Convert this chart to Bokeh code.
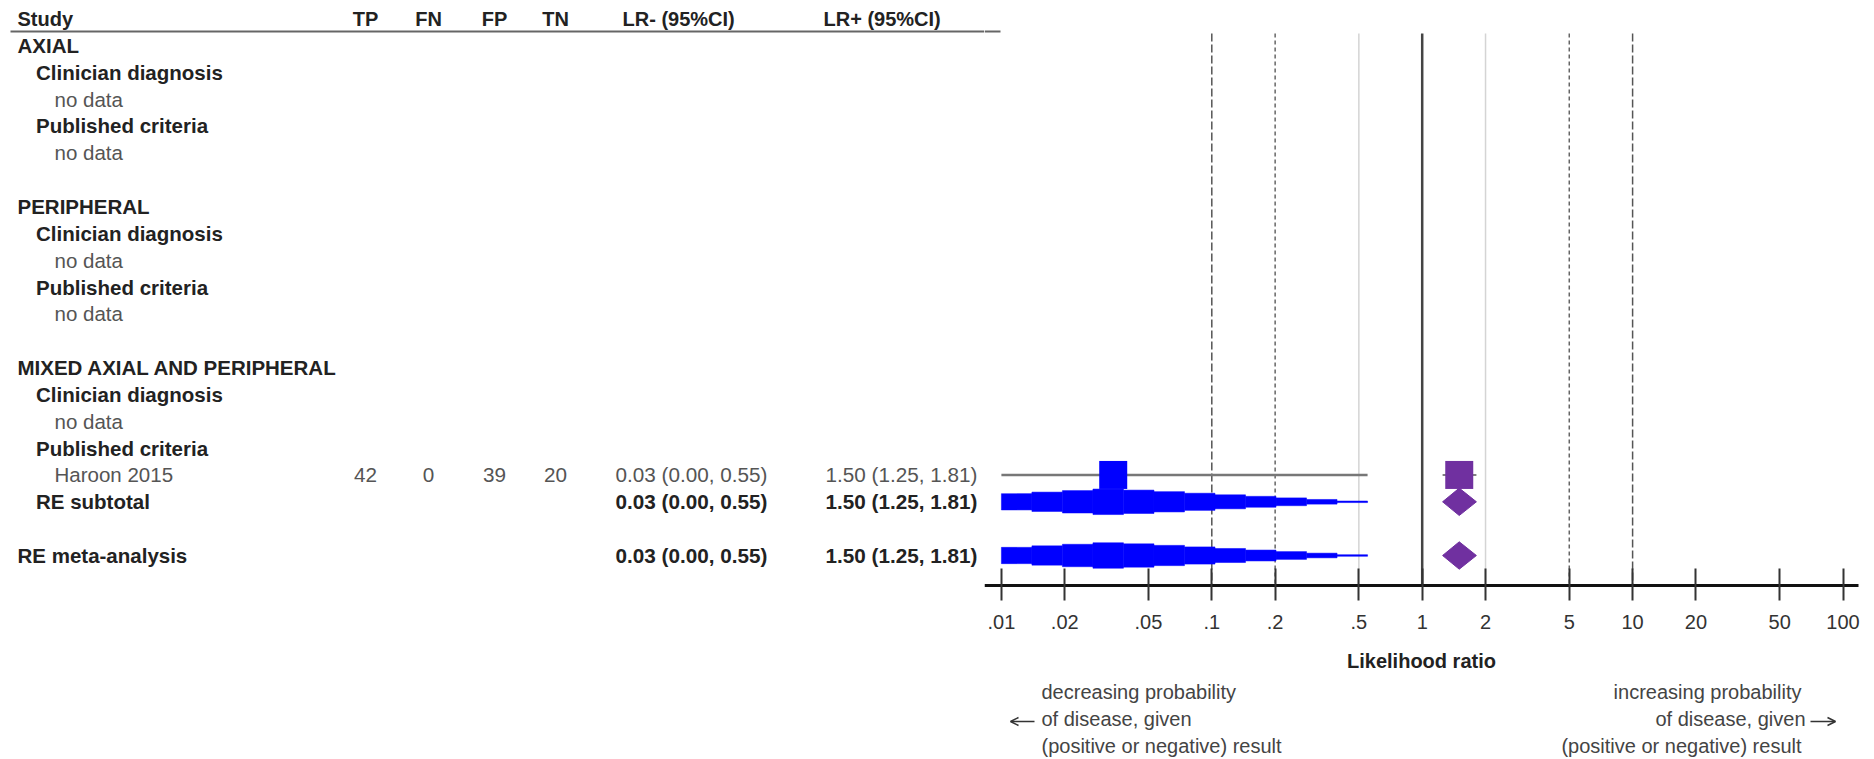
import math
from bokeh.plotting import figure
from bokeh.layouts import row
from bokeh.models import Range1d, FixedTicker, CustomJSTickFormatter, Arrow, OpenHead
from bokeh.core.properties import value
from bokeh.embed import file_html
from bokeh.resources import INLINE

# ---------------- data ----------------
header_labels = ["Study", "TP", "FN", "FP", "TN", "LR- (95%CI)", "LR+ (95%CI)"]

row_labels = ["AXIAL", "Clinician diagnosis", "no data", "Published criteria", "no data",
              "PERIPHERAL", "Clinician diagnosis", "no data", "Published criteria", "no data",
              "MIXED AXIAL AND PERIPHERAL", "Clinician diagnosis", "no data", "Published criteria",
              "Haroon 2015", "RE subtotal", "RE meta-analysis"]
row_index = [1, 2, 3, 4, 5, 7, 8, 9, 10, 11, 13, 14, 15, 16, 17, 18, 20]
row_level = [0, 1, 2, 1, 2, 0, 1, 2, 1, 2, 0, 1, 2, 1, 2, 1, 0]
row_bold = [True, True, False, True, False, True, True, False, True, False,
            True, True, False, True, False, True, True]

study_names = ["Haroon 2015"]
study_row = [17]
tp = [42]
fn = [0]
fp = [39]
tn = [20]
study_lrn = [0.034]
study_lrn_lo = [0.002]
study_lrn_hi = [0.55]
study_lrp = [1.50]
study_lrp_lo = [1.25]
study_lrp_hi = [1.81]

pooled_names = ["RE subtotal", "RE meta-analysis"]
pooled_row = [18, 20]
pooled_lrn = [0.034, 0.034]
pooled_lrn_lo = [0.002, 0.002]
pooled_lrn_hi = [0.55, 0.55]
pooled_lrp = [1.50, 1.50]
pooled_lrp_lo = [1.25, 1.25]
pooled_lrp_hi = [1.81, 1.81]

axis_ticks = [0.01, 0.02, 0.05, 0.1, 0.2, 0.5, 1, 2, 5, 10, 20, 50, 100]
ref_long_dash = [0.1, 10]
ref_short_dash = [0.2, 5]
ref_light = [0.5, 2]
ref_null = [1]

left_note = ["decreasing probability", "of disease, given", "(positive or negative) result"]
right_note = ["increasing probability", "of disease, given", "(positive or negative) result"]

# ---------------- layout constants ----------------
FONT = value("Liberation Sans")
FS = value("20px")
FS_LAB = value("20.5px")
FS_VAL = value("20.7px")
ROW0 = 18.0
ROWH = 26.85
X_ONE = 1421.7
DECADE = 210.4
AXIS_MIN = 0.01
H = 757


def ky(py):
    return (py - ROW0) / ROWH


def px_to_lr(px):
    return 10 ** ((px - X_ONE) / DECADE)


def fmt(e, lo, hi):
    return f"{e:.2f} ({lo:.2f}, {hi:.2f})"


YR = (ky(H), ky(0))

# ---------------- left table figure ----------------
L = figure(width=984, height=H, x_range=Range1d(0, 984), y_range=Range1d(*YR),
           toolbar_location=None, output_backend="svg", x_axis_location=None,
           y_axis_location=None, min_border=0, outline_line_color=None)
L.xgrid.visible = False
L.ygrid.visible = False

hx = [17, 365, 428, 494, 555, 622, 823]
halign = ["left", "center", "center", "center", "center", "left", "left"]
L.text(x=hx, y=[0] * 7, text=header_labels, text_align=halign, text_baseline="middle",
       text_font=FONT, text_font_size=FS, text_font_style="bold", text_color="#222")
L.segment(x0=[10], y0=[ky(31)], x1=[984], y1=[ky(31)], line_color="#666", line_width=2)

bx = [17 + 18.5 * lv for lv, b in zip(row_level, row_bold) if b]
by = [r for r, b in zip(row_index, row_bold) if b]
bt = [t for t, b in zip(row_labels, row_bold) if b]
L.text(x=bx, y=by, text=bt, text_align="left", text_baseline="middle",
       text_font=FONT, text_font_size=FS_LAB, text_font_style="bold", text_color="#222")
nx = [17 + 18.5 * lv for lv, b in zip(row_level, row_bold) if not b]
ny = [r for r, b in zip(row_index, row_bold) if not b]
nt = [t for t, b in zip(row_labels, row_bold) if not b]
L.text(x=nx, y=ny, text=nt, text_align="left", text_baseline="middle",
       text_font=FONT, text_font_size=FS_LAB, text_color="#555")

for col_x, vals in zip([365, 428, 494, 555], [tp, fn, fp, tn]):
    L.text(x=[col_x] * len(vals), y=study_row, text=[str(v) for v in vals], text_align="center",
           text_baseline="middle", text_font=FONT, text_font_size=FS_VAL, text_color="#555")
L.text(x=[615] * len(study_row), y=study_row,
       text=[fmt(*v) for v in zip(study_lrn, study_lrn_lo, study_lrn_hi)],
       text_align="left", text_baseline="middle", text_font=FONT, text_font_size=FS_VAL, text_color="#555")
L.text(x=[825] * len(study_row), y=study_row,
       text=[fmt(*v) for v in zip(study_lrp, study_lrp_lo, study_lrp_hi)],
       text_align="left", text_baseline="middle", text_font=FONT, text_font_size=FS_VAL, text_color="#555")
L.text(x=[615] * len(pooled_row), y=pooled_row,
       text=[fmt(*v) for v in zip(pooled_lrn, pooled_lrn_lo, pooled_lrn_hi)],
       text_align="left", text_baseline="middle", text_font=FONT, text_font_size=FS_VAL,
       text_font_style="bold", text_color="#222")
L.text(x=[825] * len(pooled_row), y=pooled_row,
       text=[fmt(*v) for v in zip(pooled_lrp, pooled_lrp_lo, pooled_lrp_hi)],
       text_align="left", text_baseline="middle", text_font=FONT, text_font_size=FS_VAL,
       text_font_style="bold", text_color="#222")

# ---------------- right forest plot figure ----------------
R = figure(width=888, height=H, x_axis_type="log",
           x_range=Range1d(px_to_lr(984), px_to_lr(1872)), y_range=Range1d(*YR),
           toolbar_location=None, output_backend="svg", y_axis_location=None,
           min_border=0, outline_line_color=None)
R.xgrid.visible = False
R.ygrid.visible = False

R.segment(x0=[px_to_lr(984)], y0=[ky(31)], x1=[px_to_lr(1000)], y1=[ky(31)],
          line_color="#666", line_width=2)

top_y = ky(33)
bot_y = ky(585)
R.segment(x0=ref_light, y0=[top_y] * 2, x1=ref_light, y1=[bot_y] * 2, line_color="#d4d4d4", line_width=1.5)
R.segment(x0=ref_short_dash, y0=[top_y] * 2, x1=ref_short_dash, y1=[bot_y] * 2,
          line_color="#666", line_width=1.5, line_dash="4 3")
R.segment(x0=ref_long_dash, y0=[top_y] * 2, x1=ref_long_dash, y1=[bot_y] * 2,
          line_color="#555", line_width=1.5, line_dash="8 3")
R.segment(x0=ref_null, y0=[top_y], x1=ref_null, y1=[bot_y], line_color="#444", line_width=2.5)

# LR- pooled: stepped diamonds (blue)
HALF = 13.0 / ROWH
NSTEP = 12
ql, qr, qt, qb = [], [], [], []
for e, lo, hi, yr in zip(pooled_lrn, pooled_lrn_lo, pooled_lrn_hi, pooled_row):
    a = math.log10(max(lo, AXIS_MIN))
    b = math.log10(hi)
    le, ll, lh = math.log10(e), math.log10(lo), math.log10(hi)
    for i in range(NSTEP):
        e0 = a + (b - a) * i / NSTEP
        e1 = a + (b - a) * (i + 1) / NSTEP
        m = (e0 + e1) / 2
        h = HALF * ((m - ll) / (le - ll) if m < le else (lh - m) / (lh - le))
        ql.append(10 ** e0)
        qr.append(10 ** e1)
        qt.append(yr - h)
        qb.append(yr + h)
R.quad(left=ql, right=qr, top=qt, bottom=qb, fill_color="#0000FF", line_color="#0000FF", line_width=0.5)

R.segment(x0=[max(v, AXIS_MIN) for v in study_lrn_lo], y0=study_row, x1=study_lrn_hi, y1=study_row,
          line_color="#777", line_width=2.5)
R.scatter(x=study_lrn, y=study_row, marker="square", size=28, fill_color="#0000FF", line_color=None)

R.segment(x0=study_lrp_lo, y0=study_row, x1=study_lrp_hi, y1=study_row, line_color="#555", line_width=1.5)
R.scatter(x=study_lrp, y=study_row, marker="square", size=28, fill_color="#7030A0", line_color=None)

DH = 13.7 / ROWH
xs = [[lo, e, hi, e] for e, lo, hi in zip(pooled_lrp, pooled_lrp_lo, pooled_lrp_hi)]
ys = [[yr, yr - DH, yr, yr + DH] for yr in pooled_row]
R.patches(xs=xs, ys=ys, fill_color="#7030A0", line_color="#7030A0", line_width=1)

ax = R.xaxis[0]
ax.fixed_location = ky(585)
ax.bounds = (px_to_lr(984), px_to_lr(1858))
ax.ticker = FixedTicker(ticks=axis_ticks)
ax.formatter = CustomJSTickFormatter(
    code="return tick < 1 ? String(tick).replace(/^0\\./, '.') : String(tick);")
ax.axis_line_color = "#111"
ax.axis_line_width = 3
ax.major_tick_line_color = "#333"
ax.major_tick_line_width = 2
ax.major_tick_in = 17
ax.major_tick_out = 15
ax.minor_tick_line_color = None
ax.major_label_text_font = "Liberation Sans"
ax.major_label_text_font_size = "20px"
ax.major_label_text_color = "#333"
ax.major_label_standoff = 14
ax.axis_label = "Likelihood ratio"
ax.axis_label_text_font = "Liberation Sans"
ax.axis_label_text_font_size = "20px"
ax.axis_label_text_font_style = "bold"
ax.axis_label_text_color = "#222"
ax.axis_label_standoff = 18

# notes under the axis
note_y = [ky(691.5), ky(718), ky(745)]
R.text(x=[px_to_lr(1041)] * 3, y=note_y, text=left_note, text_align="left", text_baseline="middle",
       text_font=FONT, text_font_size=FS, text_color="#444")
R.text(x=[px_to_lr(1801), px_to_lr(1805), px_to_lr(1801)], y=note_y, text=right_note,
       text_align="right", text_baseline="middle", text_font=FONT, text_font_size=FS, text_color="#444")
R.add_layout(Arrow(end=OpenHead(size=8, line_width=1.5, line_color="#333"),
                   x_start=px_to_lr(1034), y_start=ky(721), x_end=px_to_lr(1010), y_end=ky(721),
                   line_width=1.5, line_color="#333"))
R.add_layout(Arrow(end=OpenHead(size=8, line_width=1.5, line_color="#333"),
                   x_start=px_to_lr(1810), y_start=ky(721), x_end=px_to_lr(1835), y_end=ky(721),
                   line_width=1.5, line_color="#333"))

layout = row(L, R, spacing=0)
open("out.html", "w").write(file_html(layout, INLINE))
